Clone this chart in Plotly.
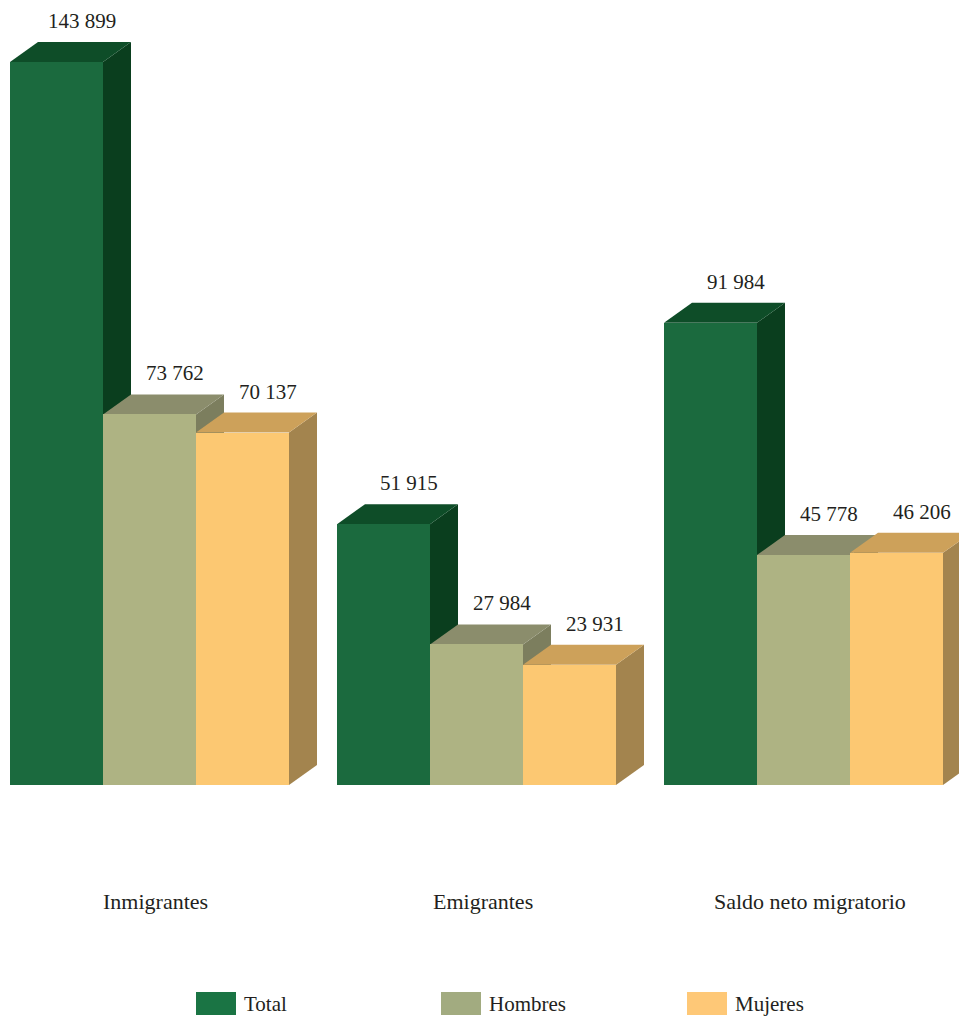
import plotly.graph_objects as go

# ---------------- data ----------------
categories = ["Inmigrantes", "Emigrantes", "Saldo neto migratorio"]
series_names = ["Total", "Hombres", "Mujeres"]
total = [143899, 51915, 91984]
hombres = [73762, 27984, 45778]
mujeres = [70137, 23931, 46206]

# ---------------- styling ----------------
front_colors = ["#1b6a3e", "#aeb383", "#fcc872"]
top_colors = ["#0e4d28", "#8b8d6c", "#cda15a"]
side_colors = ["#0a3e1e", "#7c7e5e", "#a3844e"]
legend_colors = ["#1a7444", "#a2ab80", "#fec877"]
FONT = "Liberation Serif"
TXT = "#231f20"

W, H = 959, 1016
M_B = 231
group_px = 327.0
first_center_px = 149.5
bar_w = 93.0 / group_px
px_per_unit = 723.0 / 143899.0
y_max = (H - M_B) / px_per_unit
dx = 28.0 / group_px          # depth offset (x, in group units)
dy = 20.0 / px_per_unit       # depth offset (y, in value units)
x_range = [(0 - first_center_px) / group_px, (W - first_center_px) / group_px]

values = [total, hombres, mujeres]

fig = go.Figure()
shapes = []
annotations = []

def fmt(v):
    return f"{v:,}".replace(",", " ")

# 3D faces (side + top), drawn left to right beneath the front faces
for i in range(len(categories)):
    for j, vals in enumerate(values):
        v = vals[i]
        xc = i + (j - 1) * bar_w
        x0, x1 = xc - bar_w / 2, xc + bar_w / 2
        side = (f"M {x1},0 L {x1},{v} L {x1+dx},{v+dy} L {x1+dx},{dy} Z")
        top = (f"M {x0},{v} L {x1},{v} L {x1+dx},{v+dy} L {x0+dx},{v+dy} Z")
        shapes.append(dict(type="path", path=side, xref="x", yref="y",
                           fillcolor=side_colors[j], line=dict(width=0), layer="below"))
        shapes.append(dict(type="path", path=top, xref="x", yref="y",
                           fillcolor=top_colors[j], line=dict(width=0), layer="below"))
        annotations.append(dict(x=xc + dx / 2 + 11.0 / group_px, y=v + dy,
                                xref="x", yref="y", text=fmt(v), showarrow=False,
                                yanchor="bottom", yshift=7,
                                font=dict(family=FONT, size=21, color=TXT)))

# front faces
for j, vals in enumerate(values):
    fig.add_trace(go.Bar(
        x=[i + (j - 1) * bar_w for i in range(len(categories))],
        y=vals, width=bar_w, name=series_names[j],
        marker=dict(color=front_colors[j], line=dict(width=0)),
        showlegend=False,
    ))

# category labels
for i, c in enumerate(categories):
    annotations.append(dict(x=i + 6.0 / group_px, y=0, xref="x", yref="y",
                            text=c, showarrow=False, yanchor="middle", yshift=-116,
                            font=dict(family=FONT, size=22, color=TXT)))

# legend (boxes + labels) below the chart
legend_x_px = [196, 441, 687]
box_w, box_top, box_bot = 40, 992, 1015
plot_h = H - M_B
def py(px_y):
    return (plot_h - px_y) / plot_h
for j, name in enumerate(series_names):
    lx = legend_x_px[j]
    shapes.append(dict(type="rect", xref="paper", yref="paper",
                       x0=lx / W, x1=(lx + box_w) / W, y0=py(box_bot), y1=py(box_top),
                       fillcolor=legend_colors[j], line=dict(width=0)))
    annotations.append(dict(x=(lx + box_w + 6) / W, y=py((box_top + box_bot) / 2),
                            xref="paper", yref="paper", text=name, showarrow=False,
                            xanchor="left", yanchor="middle",
                            font=dict(family=FONT, size=21, color=TXT)))

fig.update_layout(
    width=W, height=H,
    font=dict(family=FONT, color=TXT),
    margin=dict(l=0, r=0, t=0, b=M_B, pad=0),
    paper_bgcolor="white", plot_bgcolor="white",
    barmode="overlay", bargap=0,
    xaxis=dict(range=x_range, showgrid=False, zeroline=False, showline=False,
               showticklabels=False, fixedrange=True),
    yaxis=dict(range=[0, y_max], showgrid=False, zeroline=False, showline=False,
               showticklabels=False, fixedrange=True),
    shapes=shapes, annotations=annotations,
    showlegend=False,
)

fig.write_html(
    "out.html",
    config={"displayModeBar": False},
    post_script="document.body.style.margin='0';document.body.style.overflow='hidden';",
)
